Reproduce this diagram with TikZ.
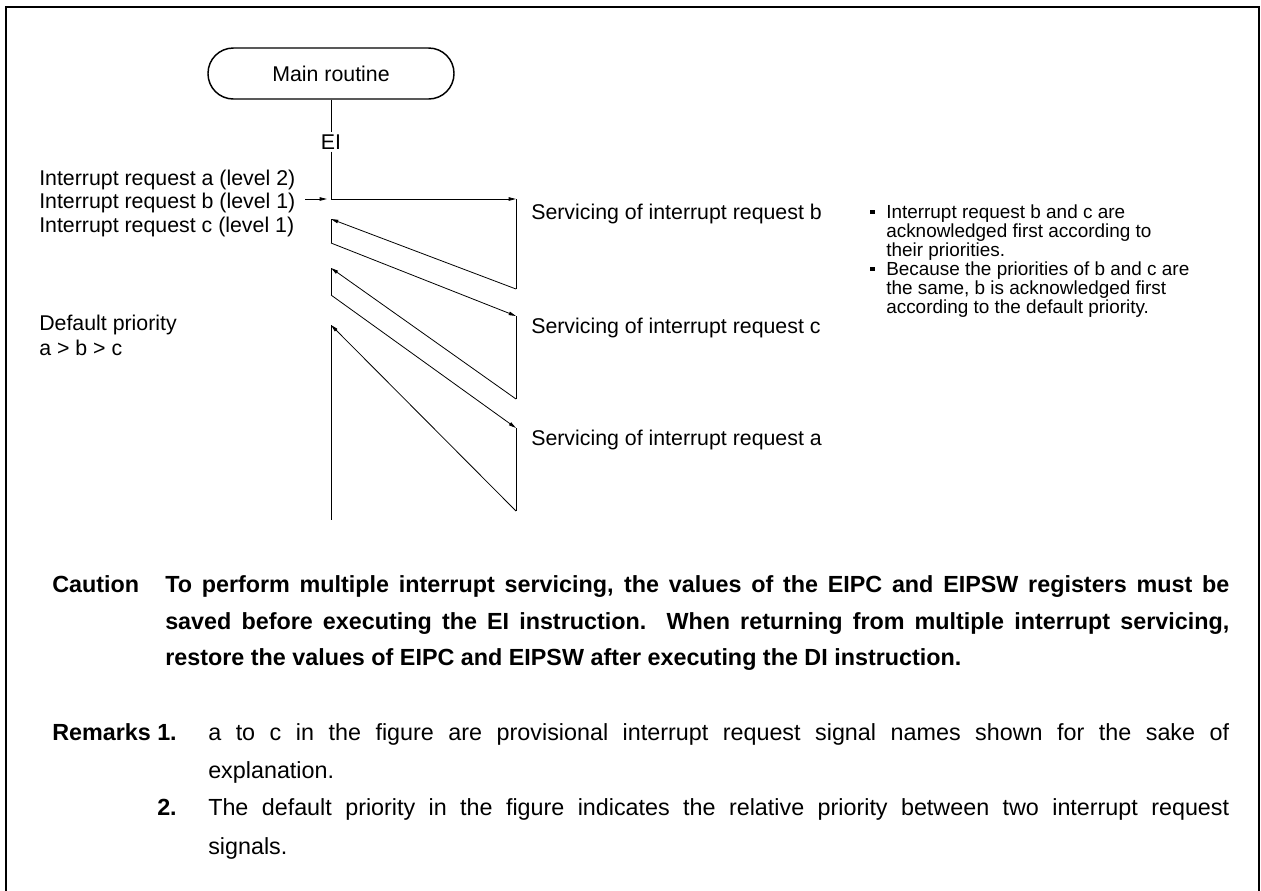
\documentclass[tikz,border=0pt]{standalone}
\usepackage{fontspec}
\setmainfont{Liberation Sans}
\usetikzlibrary{arrows.meta}
\begin{document}
\begin{tikzpicture}[x=0.75pt,y=-0.75pt,
  lbl/.style={font=\fontsize{16}{19}\selectfont, inner sep=0, anchor=base west},
  sml/.style={font=\fontsize{14.2}{16}\selectfont, inner sep=0, anchor=base west},
  bigtxt/.style={font=\fontsize{17.5}{21}\selectfont, inner sep=0, anchor=base west},
  boldtxt/.style={font=\fontsize{17.5}{21}\selectfont\bfseries, inner sep=0, anchor=base west},
  conn/.style={line width=0.6pt},
  arr/.style={conn, -{Triangle[length=5.5pt,width=2.6pt]}},
  bul/.style={fill, inner sep=0, minimum size=3.6pt}]
\useasboundingbox (0,0) rectangle (1261,890);
\draw[line width=1.5pt] (6,895) -- (6,7) -- (1259,7) -- (1259,895);

% main routine
\node[draw, line width=1.1pt, rounded corners=19pt, minimum width=184.5pt, minimum height=38.25pt,
      font=\fontsize{16}{19}\selectfont, inner sep=0] (main) at (331,73.5) {Main routine};
\node[font=\fontsize{16}{19}\selectfont, inner sep=1.5pt] (ei) at (331,142) {EI};

% corner points
\coordinate (e1) at (331,199);
\coordinate (r1t) at (516,199);
\coordinate (r1b) at (516,289);
\coordinate (l1t) at (331,219);
\coordinate (l1b) at (331,243);
\coordinate (r2t) at (516,316);
\coordinate (r2b) at (516,399);
\coordinate (l2t) at (331,268);
\coordinate (l2b) at (331,295);
\coordinate (r3t) at (516,428);
\coordinate (r3b) at (516,511);
\coordinate (l3t) at (331,325);
\coordinate (l3b) at (331,520);
\coordinate (ia0) at (305,199);
\coordinate (ia1) at (327,199);

\draw[conn] (main.south) -- (ei.north);
\draw[conn] (ei.south) -- (e1);
\draw[arr] (e1) -- (r1t);
\draw[conn] (r1t) -- (r1b);
\draw[arr] (r1b) -- (l1t);
\draw[conn] (l1t) -- (l1b);
\draw[arr] (l1b) -- (r2t);
\draw[conn] (r2t) -- (r2b);
\draw[arr] (r2b) -- (l2t);
\draw[conn] (l2t) -- (l2b);
\draw[arr] (l2b) -- (r3t);
\draw[conn] (r3t) -- (r3b);
\draw[arr] (r3b) -- (l3t);
\draw[conn] (l3t) -- (l3b);
\draw[arr] (ia0) -- (ia1);

% left labels
\node[lbl] (ira) at (39,185) {Interrupt request a (level 2)};
\node[lbl] (irb) at (39,208) {Interrupt request b (level 1)};
\node[lbl] (irc) at (39,232) {Interrupt request c (level 1)};
\node[lbl] (dp) at (39,330) {Default priority};
\node[lbl] (abc) at (39,355.5) {a > b > c};

% servicing labels
\node[lbl] (sb) at (531,219.5) {Servicing of interrupt request b};
\node[lbl] (sc) at (531,333) {Servicing of interrupt request c};
\node[lbl] (sa) at (531,445.5) {Servicing of interrupt request a};

% notes
\node[bul] (bu1) at (872.5,212) {};
\node[sml] (n11) at (886,218) {Interrupt request b and c are};
\node[sml] (n12) at (886,237) {acknowledged first according to};
\node[sml] (n13) at (886,256) {their priorities.};
\node[bul] (bu2) at (872.5,269) {};
\node[sml] (n21) at (886,275) {Because the priorities of b and c are};
\node[sml] (n22) at (886,294) {the same, b is acknowledged first};
\node[sml] (n23) at (886,313) {according to the default priority.};

% caution
\node[boldtxt] (cau) at (52,592.5) {Caution};
\node[boldtxt] (ca1) at (165,592.5) {\makebox[798pt][s]{To perform multiple interrupt servicing, the values of the EIPC and EIPSW registers must be}};
\node[boldtxt] (ca2) at (165,629.5) {\makebox[798pt][s]{saved before executing the EI instruction.\ \ When returning from multiple interrupt servicing,}};
\node[boldtxt] (ca3) at (165,665.5) {restore the values of EIPC and EIPSW after executing the DI instruction.};

% remarks
\node[boldtxt] (rem) at (52,740.5) {Remarks};
\node[boldtxt] (rn1) at (157,740.5) {1.};
\node[bigtxt] (rt1) at (208,740.5) {\makebox[765.75pt][s]{a to c in the figure are provisional interrupt request signal names shown for the sake of}};
\node[bigtxt] (rt1b) at (208,778.5) {explanation.};
\node[boldtxt] (rn2) at (157,815.5) {2.};
\node[bigtxt] (rt2) at (208,815.5) {\makebox[765.75pt][s]{The default priority in the figure indicates the relative priority between two interrupt request}};
\node[bigtxt] (rt2b) at (208,854) {signals.};
\end{tikzpicture}
\end{document}
